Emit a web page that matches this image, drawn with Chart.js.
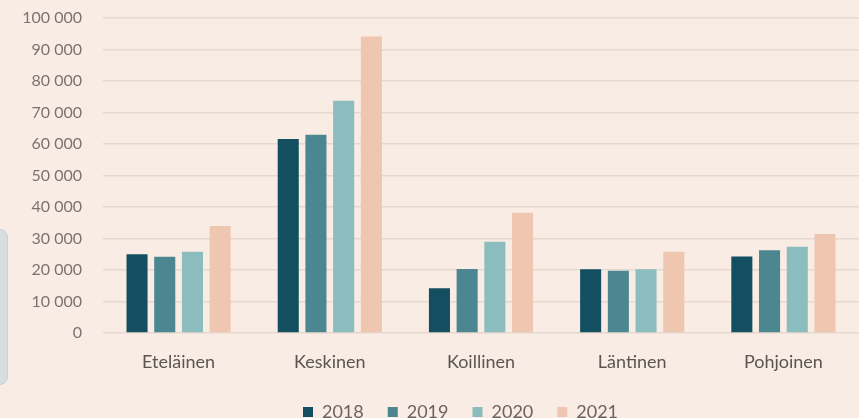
<!DOCTYPE html>
<html>
<head>
<meta charset="utf-8">
<script src="https://cdn.jsdelivr.net/npm/chart.js@4"></script>
<style>
  html, body { margin: 0; padding: 0; background: #f9ece5; overflow: hidden; }
  #wrap { position: relative; width: 859px; height: 431px; }
  #sideBox {
    position: absolute; left: -8px; top: 229px; width: 14px; height: 154px;
    border-radius: 8px; background: #d7dedf; border: 1px solid #c9d1d3;
  }
</style>
</head>
<body>
<div id="wrap">
  <canvas id="regionChart" width="859" height="431"></canvas>
  <div id="sideBox"></div>
</div>
<script>
// ==== Data ====
const regions = ['Eteläinen', 'Keskinen', 'Koillinen', 'Läntinen', 'Pohjoinen'];
const years = ['2018', '2019', '2020', '2021'];

const values2018 = [25000, 61600, 14200, 20200, 24300];
const values2019 = [24200, 62900, 20300, 19800, 26300];
const values2020 = [25800, 73700, 29000, 20200, 27400];
const values2021 = [34000, 94100, 38200, 25800, 31400];

const yearColors = ['#134f60', '#4b8691', '#8bbdbe', '#efc6b0'];

// y-axis: 0 ... 100 000, space as thousands separator
const fmt = (v) => String(v).replace(/\B(?=(\d{3})+(?!\d))/g, ' ');

const datasets = [values2018, values2019, values2020, values2021].map((vals, i) => ({
  label: years[i],
  data: vals,
  backgroundColor: yearColors[i],
  borderWidth: 0,
  categoryPercentage: 0.733,
  barPercentage: 0.76
}));

// the legend in the original sits a bit right of the canvas centre
const legendShift = {
  id: 'legendShift',
  afterLayout(chart) {
    chart.legend.left += 31;
    chart.legend.right += 31;
  }
};

new Chart(document.getElementById('regionChart'), {
  type: 'bar',
  data: { labels: regions, datasets },
  plugins: [legendShift],
  options: {
    responsive: false,
    animation: false,
    layout: { padding: { top: 18, right: 0, bottom: 0, left: 0 } },
    plugins: {
      tooltip: { enabled: false },
      legend: {
        position: 'bottom',
        labels: {
          boxWidth: 10,
          boxHeight: 10,
          padding: 24,
          color: '#6a6361',
          font: { family: 'Lato', size: 18 }
        }
      }
    },
    scales: {
      x: {
        grid: { display: false },
        border: { display: false },
        ticks: { color: '#5a5553', padding: 10, font: { family: 'Lato', size: 18 } },
        afterFit: (s) => { s.height = 46; }
      },
      y: {
        min: 0,
        max: 100000,
        grid: { color: '#e6d8cf', lineWidth: 1.5, tickLength: 19, tickColor: 'transparent' },
        border: { display: false },
        ticks: {
          stepSize: 10000,
          padding: 2,
          color: '#7b7370',
          font: { family: 'Lato', size: 16 },
          callback: (v) => fmt(v)
        },
        afterFit: (s) => { s.width = 103; }
      }
    }
  }
});
</script>
</body>
</html>
